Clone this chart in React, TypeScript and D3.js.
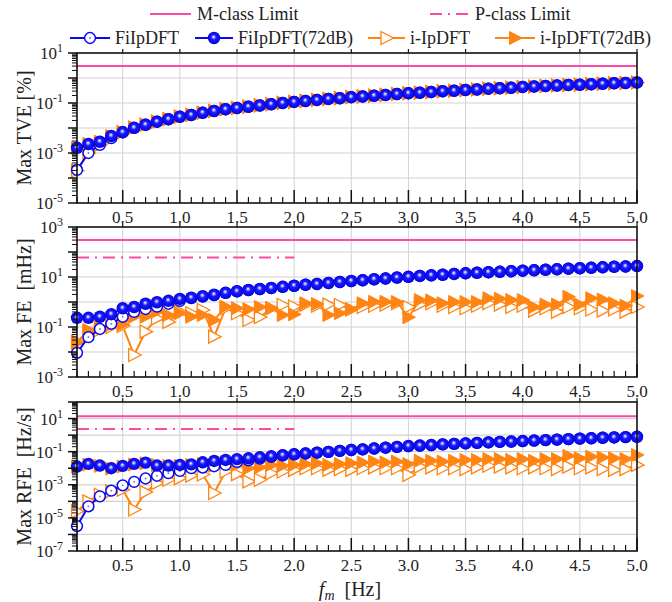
import React from 'react';
import * as d3 from 'd3';

// modulation frequency fm [Hz], 0.1 ... 5.0
const freqs: number[] = d3.range(1, 51).map(i => i / 10);

// Max TVE [%]
const tveFi: number[] = [2.1e-4, 1.0e-3, 2.1e-3, 3.9e-3, 6.76e-3, 1.02e-2, 1.35e-2, 1.78e-2, 2.24e-2, 2.82e-2,
  3.31e-2, 4.07e-2, 4.79e-2, 5.62e-2, 6.31e-2, 7.08e-2, 7.94e-2, 8.91e-2, 0.100, 0.110,
  0.120, 0.132, 0.145, 0.155, 0.170, 0.182, 0.195, 0.209, 0.229, 0.245,
  0.257, 0.275, 0.295, 0.309, 0.331, 0.347, 0.372, 0.389, 0.407, 0.437,
  0.457, 0.479, 0.501, 0.525, 0.537, 0.562, 0.589, 0.617, 0.631, 0.661];
const tveFi72: number[] = [1.62e-3, 2.29e-3, 2.82e-3, 4.79e-3, 6.76e-3, 1.02e-2, 1.35e-2, 1.78e-2, 2.24e-2, 2.82e-2,
  3.31e-2, 4.07e-2, 4.79e-2, 5.62e-2, 6.31e-2, 7.08e-2, 7.94e-2, 8.91e-2, 0.100, 0.110,
  0.120, 0.132, 0.145, 0.155, 0.170, 0.182, 0.195, 0.209, 0.229, 0.245,
  0.257, 0.275, 0.295, 0.309, 0.331, 0.347, 0.372, 0.389, 0.407, 0.437,
  0.457, 0.479, 0.501, 0.525, 0.537, 0.562, 0.589, 0.617, 0.631, 0.661];
const tveI: number[] = [2.0e-4, 1.0e-3, 2.1e-3, 3.9e-3, 6.8e-3, 1.03e-2, 1.36e-2, 1.79e-2, 2.25e-2, 2.84e-2,
  3.33e-2, 4.09e-2, 4.81e-2, 5.65e-2, 6.34e-2, 7.12e-2, 7.98e-2, 8.95e-2, 0.101, 0.111,
  0.121, 0.133, 0.146, 0.156, 0.171, 0.183, 0.196, 0.210, 0.230, 0.246,
  0.258, 0.276, 0.296, 0.310, 0.332, 0.348, 0.373, 0.390, 0.408, 0.438,
  0.458, 0.480, 0.502, 0.526, 0.538, 0.563, 0.590, 0.618, 0.632, 0.662];
const tveI72: number[] = [1.6e-3, 2.3e-3, 2.85e-3, 4.8e-3, 6.8e-3, 1.03e-2, 1.36e-2, 1.79e-2, 2.25e-2, 2.84e-2,
  3.33e-2, 4.09e-2, 4.81e-2, 5.65e-2, 6.34e-2, 7.12e-2, 7.98e-2, 8.95e-2, 0.101, 0.111,
  0.121, 0.133, 0.146, 0.156, 0.171, 0.183, 0.196, 0.210, 0.230, 0.246,
  0.258, 0.276, 0.296, 0.310, 0.332, 0.348, 0.373, 0.390, 0.408, 0.438,
  0.458, 0.480, 0.502, 0.526, 0.538, 0.563, 0.590, 0.618, 0.632, 0.662];

// Max FE [mHz]
const feFi: number[] = [0.0093, 0.039, 0.083, 0.135, 0.257, 0.40, 0.525, 0.65, 0.85, 1.1,
  1.42, 1.65, 1.9, 2.3, 2.65, 3.0, 3.3, 3.6, 4.05, 4.45,
  4.9, 5.25, 5.75, 6.3, 6.9, 7.4, 8.1, 8.7, 9.5, 10.2,
  11.0, 11.7, 12.3, 13.2, 14.1, 14.8, 15.5, 16.2, 17.0, 17.8,
  18.6, 19.5, 20.4, 21.4, 22.4, 23.4, 24.5, 25.7, 26.3, 27.5];
const feFi72: number[] = [0.234, 0.234, 0.257, 0.324, 0.562, 0.631, 0.851, 0.977, 1.12, 1.32,
  1.48, 1.70, 1.95, 2.34, 2.69, 3.02, 3.31, 3.63, 4.07, 4.47,
  4.90, 5.25, 5.75, 6.31, 6.92, 7.41, 8.13, 8.71, 9.55, 10.2,
  11.0, 11.7, 12.3, 13.2, 14.1, 14.8, 15.5, 16.2, 17.0, 17.8,
  18.6, 19.5, 20.4, 21.4, 22.4, 23.4, 24.5, 25.7, 26.3, 27.5];
const feI: number[] = [0.026, 0.065, 0.076, 0.10, 0.11, 0.0076, 0.065, 0.22, 0.16, 0.41,
  0.355, 0.48, 0.041, 0.56, 0.355, 0.19, 0.25, 0.56, 0.76, 0.66,
  0.79, 0.71, 0.79, 0.76, 0.50, 0.63, 0.71, 0.79, 0.89, 0.63,
  0.79, 0.89, 0.71, 0.63, 0.56, 0.71, 0.89, 0.79, 0.63, 0.71,
  0.45, 0.56, 0.40, 0.63, 0.56, 0.50, 0.45, 0.50, 0.41, 0.63];
const feI72: number[] = [0.023, 0.076, 0.10, 0.12, 0.126, 0.257, 0.257, 0.41, 0.30, 0.355,
  0.257, 0.30, 0.19, 0.65, 0.56, 0.51, 0.63, 0.56, 0.30, 0.32,
  0.89, 0.83, 0.30, 0.355, 0.51, 0.89, 1.02, 1.02, 1.0, 0.245,
  1.2, 1.15, 0.89, 1.0, 1.0, 1.0, 1.41, 1.35, 1.2, 1.2,
  0.63, 0.79, 0.79, 1.62, 0.79, 1.41, 1.26, 0.89, 0.71, 1.74];

// Max RFE [Hz/s]
const rfeFi: number[] = [3.2e-6, 5.0e-5, 2.0e-4, 4.4e-4, 9.3e-4, 1.5e-3, 2.4e-3, 3.5e-3, 5.0e-3, 6.9e-3,
  0.010, 0.011, 0.0132, 0.0158, 0.024, 0.030, 0.038, 0.048, 0.0603, 0.0692,
  0.0776, 0.0871, 0.0977, 0.112, 0.126, 0.138, 0.155, 0.174, 0.195, 0.219,
  0.234, 0.251, 0.275, 0.295, 0.316, 0.339, 0.363, 0.389, 0.407, 0.437,
  0.468, 0.501, 0.537, 0.575, 0.617, 0.646, 0.692, 0.724, 0.759, 0.794];
const rfeFi72: number[] = [0.0126, 0.0182, 0.0145, 0.0100, 0.0138, 0.0182, 0.0219, 0.0145, 0.0145, 0.0158,
  0.0170, 0.0229, 0.0275, 0.0316, 0.0355, 0.0398, 0.0457, 0.0525, 0.0603, 0.0692,
  0.0776, 0.0871, 0.0977, 0.112, 0.126, 0.138, 0.155, 0.174, 0.195, 0.219,
  0.234, 0.251, 0.275, 0.295, 0.316, 0.339, 0.363, 0.389, 0.407, 0.437,
  0.468, 0.501, 0.537, 0.575, 0.617, 0.646, 0.692, 0.724, 0.759, 0.794];
const rfeI: number[] = [2.5e-5, 1.0e-4, 2.5e-4, 4.0e-4, 5.0e-4, 3.2e-5, 3.6e-4, 1.26e-3, 2.0e-3, 2.5e-3,
  3.6e-3, 4.2e-3, 3.2e-4, 6.3e-3, 4.4e-3, 1.6e-3, 2.0e-3, 5.0e-3, 6.3e-3, 7.9e-3,
  0.0100, 0.0100, 7.9e-3, 8.9e-3, 7.9e-3, 0.0100, 0.0112, 0.0100, 0.0100, 4.0e-3,
  0.0126, 0.0112, 0.0100, 0.0100, 8.9e-3, 0.0112, 0.0141, 0.0126, 0.0112, 0.0100,
  0.0112, 0.0100, 8.9e-3, 0.0126, 0.0100, 0.0112, 8.9e-3, 7.9e-3, 8.9e-3, 0.0158];
const rfeI72: number[] = [0.0126, 0.0166, 0.0138, 0.0095, 0.0126, 0.0166, 0.0200, 0.0158, 0.0141, 0.0141,
  0.0158, 0.0178, 0.0141, 0.0224, 0.0158, 0.0100, 0.0112, 0.0158, 0.0141, 0.0158,
  0.0178, 0.0200, 0.0158, 0.0178, 0.0200, 0.0224, 0.0251, 0.0224, 0.0251, 0.0178,
  0.0282, 0.0282, 0.0251, 0.0282, 0.0316, 0.0316, 0.0355, 0.0355, 0.0316, 0.0355,
  0.0282, 0.0355, 0.0355, 0.0562, 0.0398, 0.0501, 0.0447, 0.0398, 0.0355, 0.0631];

// limits: [M-class, P-class]
const tveLimits = [3, 3];
const feLimits = [300, 60];
const rfeLimits = [14, 2.3];

const xTicks = [0.5, 1.0, 1.5, 2.0, 2.5, 3.0, 3.5, 4.0, 4.5, 5.0];

const BLUE = '#0808f2';
const ORANGE = '#ff8412';
const PINK = '#ff4aa5';
const GRID = '#d2d2d2';
const FONT = 'Liberation Serif, Times New Roman, serif';

const x = d3.scaleLinear().domain([0.1, 5.0]).range([77, 637]);

const panels = [
  { top: 53, bottom: 203, lo: -5, hi: 1, labelExp: [1, -1, -3, -5], title: 'Max TVE [%]', s: [tveFi, tveFi72, tveI, tveI72], lim: tveLimits },
  { top: 227, bottom: 377, lo: -3, hi: 3, labelExp: [3, 1, -1, -3], title: 'Max FE  [mHz]', s: [feFi, feFi72, feI, feI72], lim: feLimits },
  { top: 402, bottom: 551, lo: -7, hi: 2, labelExp: [1, -1, -3, -5, -7], title: 'Max RFE  [Hz/s]', s: [rfeFi, rfeFi72, rfeI, rfeI72], lim: rfeLimits },
];

const tri = (cx: number, cy: number) => `M${cx - 5.5},${cy - 6.5}L${cx + 7},${cy}L${cx - 5.5},${cy + 6.5}Z`;

const OpenCircle = ({ cx, cy }: { cx: number; cy: number }) => (
  <g>
    <circle cx={cx} cy={cy} r={5.4} fill="#fff" stroke={BLUE} strokeWidth={1.5} />
    <circle cx={cx} cy={cy} r={0.9} fill="#6a6aff" />
  </g>
);
const Ball = ({ cx, cy }: { cx: number; cy: number }) => (
  <circle cx={cx} cy={cy} r={6.2} fill="url(#ball)" />
);
const OpenTri = ({ cx, cy }: { cx: number; cy: number }) => (
  <path d={tri(cx, cy)} fill="#fff" stroke={ORANGE} strokeWidth={1.3} />
);
const FillTri = ({ cx, cy }: { cx: number; cy: number }) => (
  <path d={tri(cx, cy)} fill={ORANGE} stroke={ORANGE} strokeWidth={1} />
);

const Pow = ({ x: px, y: py, e }: { x: number; y: number; e: number }) => (
  <text x={px} y={py} textAnchor="end" fontSize={17} fontFamily={FONT} fill="#222">
    10<tspan fontSize={12} dy={-7}>{e}</tspan>
  </text>
);

function Panel({ p }: { p: typeof panels[number] }) {
  const y = d3.scaleLog().domain([10 ** p.lo, 10 ** p.hi]).range([p.bottom, p.top]);
  const decades = d3.range(p.lo, p.hi + 1);
  const minors: number[] = [];
  decades.slice(0, -1).forEach(e => { for (let k = 2; k < 10; k++) minors.push(k * 10 ** e); });
  const line = (vals: number[]) => d3.line<number>().x((_, i) => x(freqs[i])).y(v => y(v))(vals) || '';
  const [fi, fi72, ii, ii72] = p.s;
  const minorX = d3.range(1, 50).map(i => i / 10).filter(v => Math.abs(v * 2 - Math.round(v * 2)) > 1e-6);
  return (
    <g>
      {/* grid */}
      {xTicks.slice(0, -1).map(t => (
        <line key={'gx' + t} x1={x(t)} x2={x(t)} y1={p.top} y2={p.bottom} stroke={GRID} strokeWidth={1} />
      ))}
      {decades.slice(1, -1).map(e => (
        <line key={'gy' + e} x1={x(0.1)} x2={x(5)} y1={y(10 ** e)} y2={y(10 ** e)} stroke={GRID} strokeWidth={1.2} />
      ))}
      {/* limits */}
      <line x1={x(0.1)} x2={x(5)} y1={y(p.lim[0])} y2={y(p.lim[0])} stroke={PINK} strokeWidth={2} />
      <line x1={x(0.1)} x2={x(2.0)} y1={y(p.lim[1])} y2={y(p.lim[1])} stroke={PINK} strokeWidth={2} strokeDasharray="12,6,2,6" />
      {/* series */}
      <path d={line(ii)} fill="none" stroke={ORANGE} strokeWidth={2} />
      {ii.map((v, i) => <OpenTri key={'a' + i} cx={x(freqs[i])} cy={y(v)} />)}
      <path d={line(ii72)} fill="none" stroke={ORANGE} strokeWidth={2} />
      {ii72.map((v, i) => <FillTri key={'b' + i} cx={x(freqs[i])} cy={y(v)} />)}
      <path d={line(fi)} fill="none" stroke={BLUE} strokeWidth={2} />
      {fi.map((v, i) => <OpenCircle key={'c' + i} cx={x(freqs[i])} cy={y(v)} />)}
      <path d={line(fi72)} fill="none" stroke={BLUE} strokeWidth={2} />
      {fi72.map((v, i) => <Ball key={'d' + i} cx={x(freqs[i])} cy={y(v)} />)}
      {/* frame */}
      <rect x={x(0.1)} y={p.top} width={x(5) - x(0.1)} height={p.bottom - p.top} fill="none" stroke="#111" strokeWidth={1.6} />
      {/* x ticks */}
      {xTicks.map(t => (
        <g key={'xt' + t}>
          <line x1={x(t)} x2={x(t)} y1={p.bottom} y2={p.bottom - 13} stroke="#111" strokeWidth={1.5} />
          <line x1={x(t)} x2={x(t)} y1={p.top} y2={p.top - 4} stroke="#111" strokeWidth={1.2} />
          <text x={x(t)} y={p.bottom + 20} textAnchor="middle" fontSize={17} fontFamily={FONT} fill="#222">{t.toFixed(1)}</text>
        </g>
      ))}
      {minorX.map(t => (
        <line key={'xm' + t} x1={x(t)} x2={x(t)} y1={p.bottom} y2={p.bottom - 6} stroke="#111" strokeWidth={1.2} />
      ))}
      {/* y ticks */}
      {decades.map(e => (
        <line key={'yt' + e} x1={x(0.1)} x2={x(0.1) - 9} y1={y(10 ** e)} y2={y(10 ** e)} stroke="#111" strokeWidth={1.5} />
      ))}
      {minors.map((m, i) => (
        <line key={'ym' + i} x1={x(0.1)} x2={x(0.1) - 5} y1={y(m)} y2={y(m)} stroke="#111" strokeWidth={1} />
      ))}
      {p.labelExp.map(e => <Pow key={'yl' + e} x={63} y={y(10 ** e) + 6} e={e} />)}
      <text transform={`translate(31,${(p.top + p.bottom) / 2}) rotate(-90)`} textAnchor="middle"
        fontSize={20} fontFamily={FONT} fill="#222" style={{ whiteSpace: 'pre' }}>{p.title}</text>
    </g>
  );
}

export default function App() {
  const legendRow2 = [
    { x0: 70, x1: 110, label: 'FiIpDFT', color: BLUE, M: OpenCircle },
    { x0: 195, x1: 233, label: 'FiIpDFT(72dB)', color: BLUE, M: Ball },
    { x0: 368, x1: 405, label: 'i-IpDFT', color: ORANGE, M: OpenTri },
    { x0: 495, x1: 535, label: 'i-IpDFT(72dB)', color: ORANGE, M: FillTri },
  ];
  return (
    <svg width={672} height={602} style={{ position: 'absolute', left: 0, top: 0, background: '#fff' }}>
      <defs>
        <radialGradient id="ball" cx="50%" cy="50%" r="55%" fx="46%" fy="40%">
          <stop offset="0%" stopColor="#ffffff" />
          <stop offset="14%" stopColor="#b0b0ff" />
          <stop offset="38%" stopColor="#1a1aff" />
          <stop offset="100%" stopColor="#0000d8" />
        </radialGradient>
      </defs>
      {/* legend */}
      <line x1={150} x2={191} y1={14} y2={14} stroke={PINK} strokeWidth={2} />
      <text x={197} y={20} fontSize={18} fontFamily={FONT} fill="#222">M-class Limit</text>
      <line x1={430} x2={470} y1={14} y2={14} stroke={PINK} strokeWidth={2} strokeDasharray="12,6,2,6" />
      <text x={475} y={20} fontSize={18} fontFamily={FONT} fill="#222">P-class Limit</text>
      {legendRow2.map(l => (
        <g key={l.label}>
          <line x1={l.x0} x2={l.x1} y1={38} y2={38} stroke={l.color} strokeWidth={2} />
          <l.M cx={(l.x0 + l.x1) / 2} cy={38} />
          <text x={l.x1 + 5} y={44} fontSize={18} fontFamily={FONT} fill="#222">{l.label}</text>
        </g>
      ))}
      {panels.map((p, i) => <Panel key={i} p={p} />)}
      <text x={350} y={596} textAnchor="middle" fontSize={20} fontFamily={FONT} fill="#222" style={{ whiteSpace: 'pre' }}>
        <tspan fontStyle="italic">f</tspan><tspan fontStyle="italic" fontSize={14} dy={4}>m</tspan><tspan dy={-4}>  [Hz]</tspan>
      </text>
    </svg>
  );
}
